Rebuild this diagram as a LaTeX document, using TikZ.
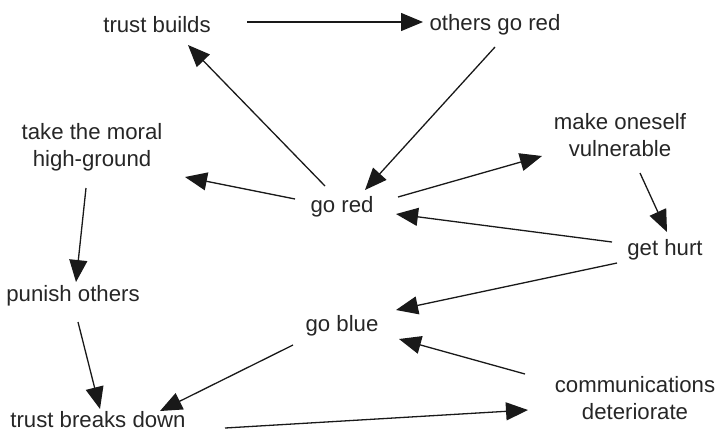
\documentclass[tikz,border=0pt]{standalone}
\usepackage{fontspec}
\setmainfont{Liberation Sans}
\usetikzlibrary{arrows.meta,calc}
\begin{document}
\begin{tikzpicture}[x=0.5pt,y=-0.5pt,
  lbl/.style={inner sep=0pt,align=center,font=\fontsize{11.1pt}{13.5pt}\selectfont,text=black!85},
  arr/.style={draw=black!90,line width=0.65pt,-{Triangle[length=11pt,width=9pt]}}]
\useasboundingbox (0,0) rectangle (715,430);
\node[lbl] (tb) at (157,25) {trust builds};
\node[lbl] (ogr) at (495,25) {others go red};
\node[lbl] (tm) at (92,147) {take the moral\\high-ground};
\node[lbl] (mo) at (620,135) {make oneself\\vulnerable};
\node[lbl] (gr) at (342,207) {go red};
\node[lbl] (gh) at (665,250) {get hurt};
\node[lbl] (po) at (73,296) {punish others};
\node[lbl] (gb) at (342,326) {go blue};
\node[lbl] (cd) at (635,398) {communications\\deteriorate};
\node[lbl] (tbd) at (98,420) {trust breaks down};
% arrows
\draw[arr] ($(tb)+(90,-3)$) -- ($(ogr)+(-72,-3)$);
\draw[arr] ($(ogr)+(0,22)$) -- ($(gr)+(23,-17)$);
\draw[arr] ($(gr)+(-17,-21)$) -- ($(tb)+(31,20)$);
\draw[arr] ($(gr)+(-47,-8)$) -- ($(tm)+(93,30)$);
\draw[arr] ($(gr)+(56,-10)$) -- ($(mo)+(-78,21)$);
\draw[arr] ($(mo)+(20,38)$) -- ($(gh)+(2,-18)$);
\draw[arr] ($(gh)+(-53,-8)$) -- ($(gr)+(54,7)$);
\draw[arr] ($(gh)+(-48,13)$) -- ($(gb)+(54,-16)$);
\draw[arr] ($(cd)+(-110,-24)$) -- ($(gb)+(57,13)$);
\draw[arr] ($(gb)+(-49,19)$) -- ($(tbd)+(62,-9)$);
\draw[arr] ($(po)+(5,26)$) -- ($(tbd)+(2,-11)$);
\draw[arr] ($(tm)+(-6,41)$) -- ($(po)+(3,-14)$);
\draw[arr] ($(tbd)+(127,8)$) -- ($(cd)+(-107,12)$);
\end{tikzpicture}
\end{document}
